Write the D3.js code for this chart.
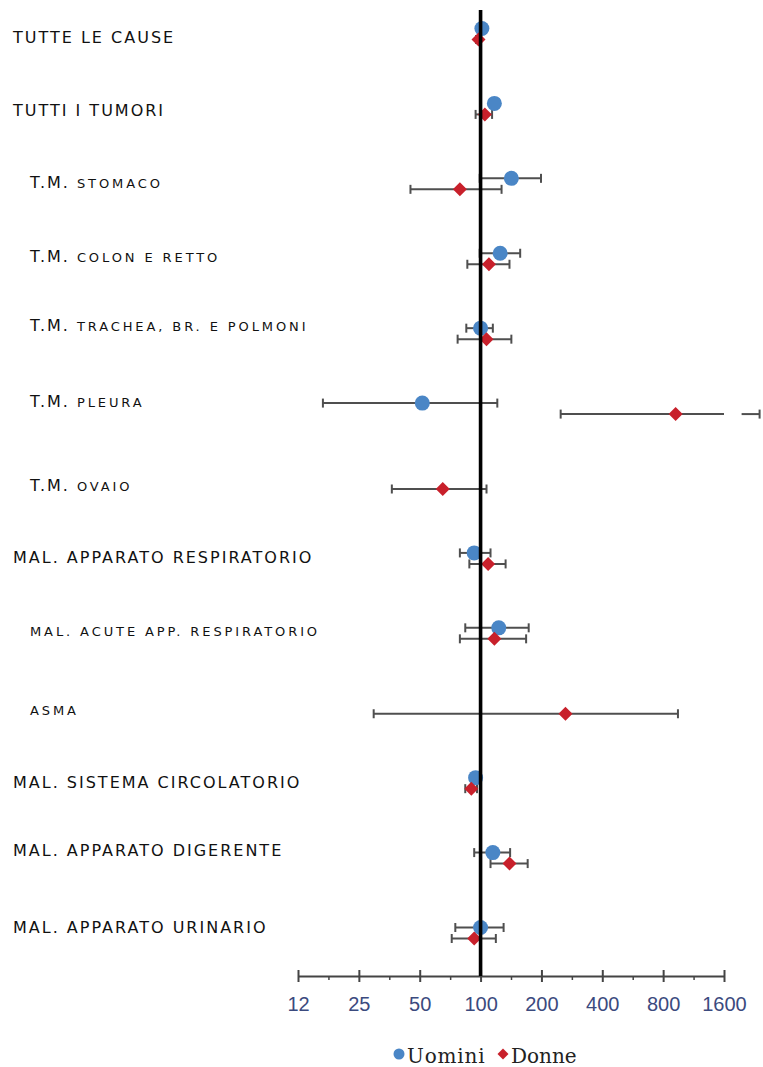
<!DOCTYPE html>
<html lang="it">
<head>
    <meta charset="UTF-8">
    <title>Mortalità - SMR</title>
    <style>
        body {
            margin: 0;
            background: #fff;
        }
        svg {
            display: block;
        }
    </style>
</head>
<body>
    <script src="https://d3js.org/d3.v7.min.js"></script>
    <script>
        // cause di morte (le parole minuscole sono disegnate in maiuscoletto)
        const categories = [
            'TUTTE LE CAUSE',
            'TUTTI I TUMORI',
            'T.M. stomaco',
            'T.M. colon e retto',
            'T.M. trachea, br. e polmoni',
            'T.M. pleura',
            'T.M. ovaio',
            'MAL. APPARATO RESPIRATORIO',
            'mal. acute app. respiratorio',
            'asma',
            'MAL. SISTEMA CIRCOLATORIO',
            'MAL. APPARATO DIGERENTE',
            'MAL. APPARATO URINARIO'
        ]

        // Uomini: SMR e intervallo di confidenza
        const uomini   = [101.5, 117, 142, 125, 100, 51.5, null, 93, 123, null, 94.5, 115, 100]
        const uominiLo = [99, 112, 99, 99, 85, 16.6, null, 79, 84, null, 92, 93, 75]
        const uominiHi = [104, 123, 199, 157, 115, 121, null, 112, 173, null, 97, 140, 130]

        // Donne: SMR e intervallo di confidenza
        const donne   = [97.7, 105, 79, 110, 107, 922, 65, 109, 117, 263, 90, 139, 93]
        const donneLo = [95, 94.5, 45, 86, 77, 249, 36.4, 88, 79, 29.6, 84, 112, 72]
        const donneHi = [100, 114, 127, 139, 142, 2400, 107, 133, 168, 947, 96, 171, 119]

        const tickValues = [12.5, 25, 50, 100, 200, 400, 800, 1600]
        const tickLabels = ['12', '25', '50', '100', '200', '400', '800', '1600']

        // layout delle etichette (rientro e piccolo scostamento verticale)
        const indent = [0, 0, 1, 1, 1, 1, 1, 0, 1, 1, 0, 0, 0]
        const labelNudge = [3, 1, -2, -3, -9, -8, 1, -1, -3, 1, -1, -8, -6]

        const width = 763
        const height = 1067
        const blue = '#4a86c6'
        const red = '#c8202b'
        const barColor = '#4f4f4f'

        const x = d3.scaleLog()
            .base(2)
            .domain([12.5, 1600])
            .range([298, 724])

        const y = d3.scalePoint()
            .domain(categories)
            .range([34, 933])

        const axisY = 976

        const svg = d3.select('body')
            .append('svg')
            .attr('width', width)
            .attr('height', height)

        // etichette delle categorie
        const labels = svg.append('g')
            .selectAll('text')
            .data(categories)
            .join('text')
            .attr('x', (_, i) => indent[i] ? 30 : 13)
            .attr('y', (d, i) => y(d) + 6 + labelNudge[i])
            .attr('font-family', 'DejaVu Sans, sans-serif')
            .attr('fill', '#111')

        labels.each(function (d) {
            // raggruppa le parole: maiuscole normali, minuscole in maiuscoletto
            const groups = []
            d.split(' ').forEach(w => {
                const small = w !== w.toUpperCase()
                const last = groups[groups.length - 1]
                if (last && last.small === small) last.text += ' ' + w
                else groups.push({ small, text: (groups.length ? ' ' : '') + w })
            })
            d3.select(this).selectAll('tspan')
                .data(groups)
                .join('tspan')
                .attr('font-size', g => g.small ? 13 : 16)
                .attr('letter-spacing', g => g.small ? 2.9 : 2)
                .style('white-space', 'pre')
                .text(g => g.text.toUpperCase())
        })

        // asse x (scala logaritmica in base 2)
        const axis = svg.append('g')
            .attr('transform', `translate(0, ${axisY})`)

        const minor = d3.pairs(tickValues).map(([a, b]) => Math.sqrt(a * b))

        axis.append('g')
            .call(d3.axisBottom(x).tickValues(minor).tickSize(4).tickFormat(''))
            .call(g => g.select('.domain').remove())
            .call(g => g.selectAll('.tick line').attr('stroke', '#444').attr('stroke-width', 1.5))

        axis.append('g')
            .call(d3.axisBottom(x)
                .tickValues(tickValues)
                .tickFormat((_, i) => tickLabels[i])
                .tickSizeOuter(0))
            .call(g => g.select('.domain').attr('stroke', '#444').attr('stroke-width', 2))
            .call(g => g.selectAll('.tick line')
                .attr('y1', -6).attr('y2', 6)
                .attr('stroke', '#444').attr('stroke-width', 2))
            .call(g => g.selectAll('.tick text')
                .attr('y', 21)
                .attr('fill', '#3b4a7e')
                .attr('font-family', 'Liberation Sans, Arial, sans-serif')
                .attr('font-size', 20))

        // barre di errore
        const series = [
            { name: 'Uomini', val: uomini, lo: uominiLo, hi: uominiHi, dy: -5.5, color: blue },
            { name: 'Donne', val: donne, lo: donneLo, hi: donneHi, dy: 5.5, color: red }
        ]

        const xMax = x.domain()[1]
        const bars = svg.append('g')
            .attr('stroke', barColor)
            .attr('stroke-width', 2)

        series.forEach(s => {
            categories.forEach((c, i) => {
                if (s.val[i] == null) return
                const cy = y(c) + s.dy
                const x0 = x(s.lo[i])
                const x1 = x(Math.min(s.hi[i], xMax))
                bars.append('line').attr('x1', x0).attr('x2', x1).attr('y1', cy).attr('y2', cy)
                bars.append('line').attr('x1', x0).attr('x2', x0).attr('y1', cy - 4.5).attr('y2', cy + 4.5)
                if (s.hi[i] <= xMax) {
                    bars.append('line').attr('x1', x1).attr('x2', x1).attr('y1', cy - 4.5).attr('y2', cy + 4.5)
                } else {
                    // estremo oltre la scala: piccolo tratto fuori dall'asse
                    const xe = x(s.hi[i])
                    bars.append('line').attr('x1', xe - 18).attr('x2', xe).attr('y1', cy).attr('y2', cy)
                    bars.append('line').attr('x1', xe).attr('x2', xe).attr('y1', cy - 4.5).attr('y2', cy + 4.5)
                }
            })
        })

        // marcatori
        const idx = d3.range(categories.length)

        svg.append('g')
            .selectAll('circle')
            .data(idx.filter(i => uomini[i] != null))
            .join('circle')
            .attr('cx', i => x(uomini[i]))
            .attr('cy', i => y(categories[i]) - 5.5)
            .attr('r', 7.5)
            .attr('fill', blue)

        const diamond = d3.symbol(d3.symbolSquare, 98)

        svg.append('g')
            .selectAll('path')
            .data(idx.filter(i => donne[i] != null))
            .join('path')
            .attr('d', diamond)
            .attr('transform', i => `translate(${x(donne[i])}, ${y(categories[i]) + 5.5}) rotate(45)`)
            .attr('fill', red)

        // linea di riferimento a 100
        svg.append('line')
            .attr('x1', x(100))
            .attr('x2', x(100))
            .attr('y1', 10)
            .attr('y2', axisY)
            .attr('stroke', '#000')
            .attr('stroke-width', 3.6)

        // legenda
        const legend = svg.append('g')
            .attr('font-family', 'DejaVu Serif, serif')
            .attr('font-size', 20)
            .attr('fill', '#222')

        legend.append('circle')
            .attr('cx', 399).attr('cy', 1054).attr('r', 5.5)
            .attr('fill', blue)
        legend.append('text')
            .attr('x', 407).attr('y', 1063)
            .attr('letter-spacing', 0.8)
            .text(series[0].name)

        legend.append('path')
            .attr('d', d3.symbol(d3.symbolSquare, 60)())
            .attr('transform', 'translate(503, 1054) rotate(45)')
            .attr('fill', red)
        legend.append('text')
            .attr('x', 511).attr('y', 1063)
            .text(series[1].name)
    </script>
</body>
</html>
